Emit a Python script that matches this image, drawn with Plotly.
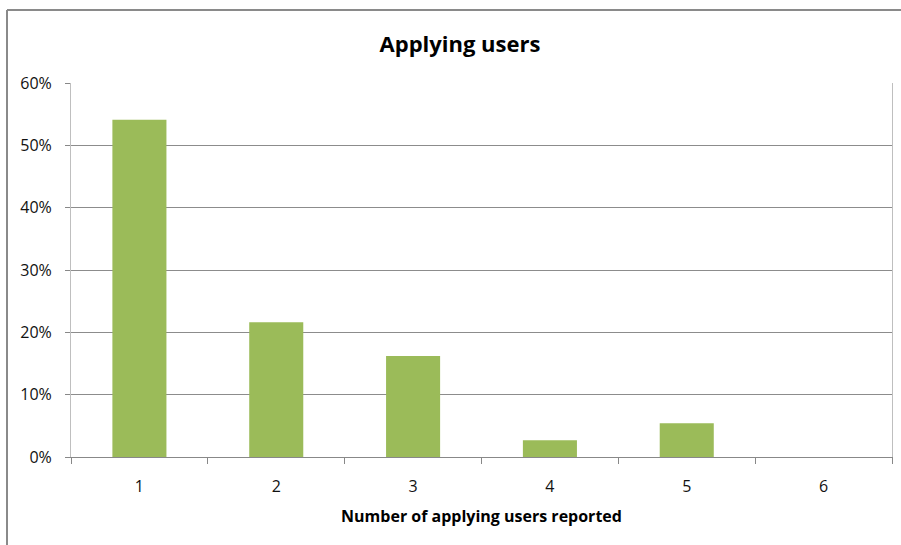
import plotly.graph_objects as go

categories = ["1", "2", "3", "4", "5", "6"]
shares = [0.541, 0.216, 0.162, 0.027, 0.054, 0.0]
y_ticks = [0, 0.1, 0.2, 0.3, 0.4, 0.5, 0.6]
y_tick_labels = ["0%", "10%", "20%", "30%", "40%", "50%", "60%"]

FONT = "Open Sans"

fig = go.Figure(go.Bar(x=categories, y=shares, marker=dict(color="#9BBB59", line=dict(width=0)),
                       hoverinfo="x+y"))

L, R, T, B = 71, 9, 83, 88
PW = 901 - L - R
PH = 545 - T - B

fig.update_layout(
    width=901, height=545,
    margin=dict(l=L, r=R, t=T, b=B, autoexpand=False),
    paper_bgcolor="white", plot_bgcolor="white",
    bargap=0.605,
    showlegend=False,
    title=dict(text="<b>Applying users</b>", x=460/901, xanchor="center", xref="container",
               y=1-44/545, yanchor="middle", yref="container",
               font=dict(family=FONT, size=22, color="black")),
    font=dict(family=FONT, size=16, color="#111"),
)

fig.update_xaxes(
    type="category", automargin=False,
    tickson="boundaries", ticks="outside", ticklen=6, tickcolor="#888", tickwidth=1,
    showline=True, linecolor="#888", linewidth=1,
    showgrid=False,
    ticklabelstandoff=15,
    tickfont=dict(family=FONT, size=16, color="#111"),
    title=dict(text="<b>Number of applying users reported</b>", standoff=14,
               font=dict(family=FONT, size=16, color="black")),
)
fig.update_yaxes(
    range=[0, 0.6], tickvals=y_ticks, ticktext=y_tick_labels, automargin=False,
    ticks="outside", ticklen=5, tickcolor="#888",
    showgrid=True, gridcolor="#8c8c8c", gridwidth=1,
    showline=True, linecolor="#BFBFBF", linewidth=1, mirror=True,
    zeroline=False,
    ticklabelstandoff=10,
    tickfont=dict(family=FONT, size=16, color="#111"),
)

# outer chart border (top and left edges visible in reference)
x_left = (7 - L) / PW
y_top = 1 + (T - 10) / PH
fig.add_shape(type="line", xref="paper", yref="paper",
              x0=x_left, x1=1 + 20 / PW, y0=y_top, y1=y_top,
              line=dict(color="#8a8a8a", width=2), layer="above")
fig.add_shape(type="line", xref="paper", yref="paper",
              x0=x_left, x1=x_left, y0=y_top, y1=-100 / PH,
              line=dict(color="#8a8a8a", width=2), layer="above")

fig.write_html("out.html", config={"displayModeBar": False},
               post_script="document.body.style.margin='0';document.body.style.overflow='hidden';")
